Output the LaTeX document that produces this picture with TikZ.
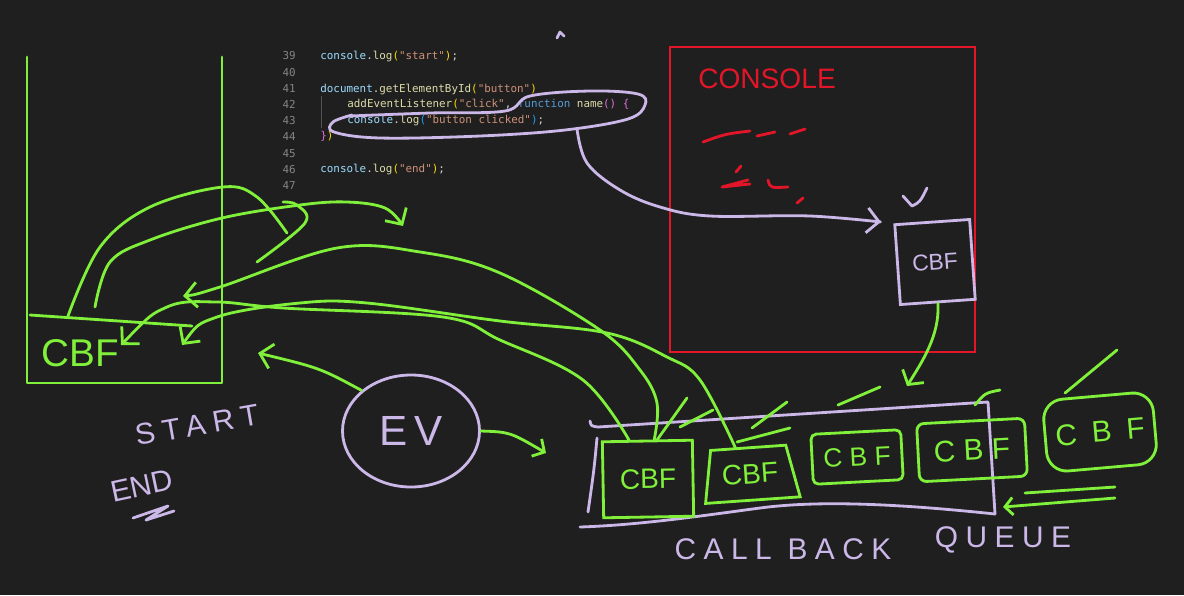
\documentclass[tikz,border=0pt]{standalone}
\usepackage{fontspec}
\setmainfont{Liberation Sans}
\newfontfamily\codefont{DejaVu Sans Mono}
\newfontfamily\hand{Liberation Sans}
\newfontfamily\handsp[LetterSpace=25]{Liberation Sans}
\usepackage{tikz}
\usetikzlibrary{arrows.meta, positioning, shapes.geometric}
\definecolor{bg}{RGB}{31,31,31}
\definecolor{grn}{RGB}{128,240,58}
\definecolor{lav}{RGB}{204,184,232}
\definecolor{cred}{RGB}{226,22,40}
\definecolor{cnum}{RGB}{133,133,133}
\definecolor{cvar}{RGB}{156,220,254}
\definecolor{cfun}{RGB}{220,220,170}
\definecolor{cstr}{RGB}{206,145,120}
\definecolor{ckey}{RGB}{86,156,214}
\definecolor{cpa}{RGB}{255,215,0}
\definecolor{cpb}{RGB}{218,112,214}
\definecolor{cpc}{RGB}{23,159,255}
\definecolor{cpl}{RGB}{212,212,212}
\newcommand\jsv[1]{\textcolor{cvar}{#1}}
\newcommand\jsf[1]{\textcolor{cfun}{#1}}
\newcommand\jss[1]{\textcolor{cstr}{#1}}
\newcommand\jsk[1]{\textcolor{ckey}{#1}}
\newcommand\jpa[1]{\textcolor{cpa}{#1}}
\newcommand\jpb[1]{\textcolor{cpb}{#1}}
\newcommand\jpc[1]{\textcolor{cpc}{#1}}
\tikzset{>={Straight Barb[length=2.4mm,width=5mm]}}

\begin{document}
\begin{tikzpicture}[x=0.2mm,y=-0.2mm,
	gline/.style={draw=grn, line width=1.6pt, line cap=round, line join=round},
	lline/.style={draw=lav, line width=1.6pt, line cap=round, line join=round},
	rline/.style={draw=cred, line width=1.6pt, line cap=round, line join=round},
	gbox/.style={draw=grn, line width=1.6pt, text=grn, inner sep=0pt, font=\hand\fontsize{16}{16}\selectfont},
	hw/.style={inner sep=0pt, font=\hand\fontsize{#1}{#1}\selectfont},
	hwsp/.style={inner sep=0pt, font=\handsp\fontsize{#1}{#1}\selectfont},
	codeline/.style={anchor=west, inner sep=0pt, text=cpl, font=\codefont\fontsize{6.2}{7}\selectfont},
	lnum/.style={anchor=east, inner sep=0pt, text=cnum, font=\codefont\fontsize{6.2}{7}\selectfont}]
		\fill[bg] (0,0) rectangle (1184,595);
		
		\begin{scope}
		\clip (270,30) rectangle (660,189);
		\foreach \n [count=\i from 0] in {39,...,47}
			\node[lnum] (n\n) at (296,{56+16.2*\i}) {\n};
		\end{scope}
		\draw[cnum!50!bg, line width=0.4pt] (321,96) -- (321,128);
		\node[codeline] (c39) at (320,56) {\jsv{console}.\jsf{log}\jpa{(}\jss{"start"}\jpa{)};};
		\node[codeline] (c41) at (320,89) {\jsv{document}.\jsf{getElementById}\jpa{(}\jss{"button"}\jpa{)}};
		\node[codeline] (c42) at (347,104) {\jsf{addEventListener}\jpa{(}\jss{"click"}, \jsk{function} \jsf{name}\jpb{()} \jpb{\{}};
		\node[codeline] (c43) at (347,120) {\jsv{console}.\jsf{log}\jpc{(}\jss{"button clicked"}\jpc{)};};
		\node[codeline] (c44) at (320,136) {\jpb{\}}\jpa{)}};
		\node[codeline] (c46) at (320,169) {\jsv{console}.\jsf{log}\jpa{(}\jss{"end"}\jpa{)};};
		
		\draw[lline] plot[smooth, tension=0.6] coordinates {(350,116) (430,113) (505,111) (530,96) (590,91) (638,94) (645,105) (628,119) (565,130) (480,136) (380,138) (334,132) (333,122) (352,115)};
		\coordinate (lt) at (577,129);
		\draw[lline] (557,38) -- (560,32) -- (564,36);
		
		\node[draw=cred, line width=1.6pt, minimum width=61mm, minimum height=61mm, inner sep=0pt] (CON) at (822.5,199.5) {};
		\node[hw=16, text=cred] (CT) at (767,79) {CONSOLE};
		\draw[rline] (703,142) .. controls (725,134) .. (750,131);
		\draw[rline] (757,136) -- (775,132);
		\draw[rline] (790,134) -- (805,129);
		\draw[rline] (741,166) -- (736,172);
		\draw[rline] (748,180) -- (722,187) -- (750,184);
		\draw[rline] (768,180) .. controls (770,188) .. (788,187);
		\draw[rline] (797,203) -- (803,198);
		
		\node[draw=lav, line width=1.6pt, text=lav, hw=13, minimum width=15mm, minimum height=16mm, rotate=4] (CB) at (935,262) {CBF};
		\draw[lline] (903,196) -- (912,206) .. controls (920,202) .. (927,188);
		\draw[lline, ->, shorten >=2.5mm] plot[smooth, tension=0.6] coordinates {(lt) (587,163) (620,190) (660,207) (710,216) (810,216) (CB.north west)};
		
		\draw[gline] (27,57) -- (27,383) -- (222,383) -- (222,57);
		\draw[gline] (30,315) -- (192,326);
		\node[hw=22, text=grn] (SC) at (80,353) {CBF};
		\coordinate (s1) at (68,316);
		\coordinate (s2) at (95,307);
		\coordinate (s3) at (183,296);
		\coordinate (s4) at (121,345);
		\coordinate (s5) at (182,345);
		\coordinate (e1) at (287,233);
		\coordinate (e2) at (403,226);
		
		\draw[gline] plot[smooth, tension=0.6] coordinates {(s1) (100,247) (150,207) (223,187) (257,197) (e1)};
		\draw[gline, ->] plot[smooth, tension=0.6] coordinates {(s2) (110,262) (150,240) (222,218) (300,205) (347,202) (385,208) (e2)};
		\draw[gline] plot[smooth, tension=0.6] coordinates {(283,202) (297,205) (305,223) (257,262)};
		
		\node[draw=lav, line width=1.6pt, ellipse, text=lav, hw=24, minimum width=27.4mm, minimum height=22.4mm] (EV) at (411,431) {E\,V};
		\coordinate (ew) at (258,353);
		\coordinate (ee) at (546,453);
		\draw[gline, ->] (EV.north west) .. controls (320,368) .. (ew);
		\draw[gline, ->, >={Straight Barb[length=1.8mm,width=4mm]}] (EV.east) .. controls (510,432) .. (ee);
		
		\node[hwsp=17, text=lav, rotate=10] (ST) at (197,425) {START};
		\node[hw=17, text=lav, rotate=12] (EN) at (142,486) {END};
		\draw[lline] (133,518) -- (168,506) -- (146,520) -- (174,511);
		
		\draw[lline] (590,421) .. controls (591,426) .. (598,427) -- (988,402) -- (995,514);
		\draw[lline] (995,514) .. controls (900,504) and (820,500) .. (760,508) .. controls (700,516) and (640,525) .. (580,527);
		\draw[lline] (597,438) .. controls (594,470) .. (588,512);
		\node[hwsp=17, text=lav] (CQ1) at (783,549) {CALL BACK};
		\node[hwsp=17, text=lav] (CQ2) at (1003,540) {QUEUE};
		
		\node[gbox, minimum width=18mm, minimum height=15.2mm, rotate=1] (Q1) at (648,479) {CBF};
		\node[gbox, trapezium, trapezium left angle=72, trapezium right angle=68, trapezium stretches=true, minimum width=19mm, minimum height=10.5mm, rotate=4] (Q2) at (750,474) {CBF};
		\node[gbox, rounded corners=3pt, minimum width=18mm, minimum height=10mm, rotate=3, font=\hand\fontsize{15}{15}\selectfont] (Q3) at (857,457) {C B F};
		\node[gbox, rounded corners=4pt, minimum width=21.6mm, minimum height=11.6mm, rotate=3, font=\hand\fontsize{17}{17}\selectfont] (Q4) at (972,450) {C B F};
		\node[gbox, rounded corners=4mm, minimum width=22mm, minimum height=14.4mm, rotate=5, font=\hand\fontsize{17}{17}\selectfont] (Q5) at (1100,432) {C\enspace B\enspace F};
		
		\draw[gline, <-] plot[smooth, tension=0.6] coordinates {(s3) (220,287) (337,248) (420,252) (500,273) (600,330) (640,370) (657,403) (Q1.80)};
		\draw[gline, <-] plot[smooth, tension=0.6] coordinates {(s4) (167,307) (217,302) (283,308) (443,317) (500,340) (583,380) (Q1.115)};
		\draw[gline, <-] plot[smooth, tension=0.6] coordinates {(s5) (217,317) (300,303) (367,303) (500,321) (607,333) (667,357) (700,380) (Q2.115)};
		
		\coordinate (qa) at (907,386);
		\draw[gline, ->, >={Straight Barb[length=2mm,width=5mm]}] (CB.south) .. controls (940,335) and (922,362) .. (qa);
		
		\draw[gline] (687,398) -- (657,440);
		\draw[gline] (713,410) -- (680,427);
		\draw[gline] (787,402) -- (752,428);
		\draw[gline] (790,428) -- (737,442);
		\draw[gline] (880,387) -- (838,405);
		\draw[gline] (1000,390) .. controls (985,393) .. (975,405);
		\draw[gline] (1117,350) -- (1065,393);
		\draw[gline] (1115,487) -- (1025,493);
		\coordinate (ua) at (1115,498);
		\coordinate (ub) at (1003,507);
		\draw[gline, ->, >={Straight Barb[length=1.6mm,width=3.5mm]}] (ua) -- (ub);
\end{tikzpicture}
\end{document}
